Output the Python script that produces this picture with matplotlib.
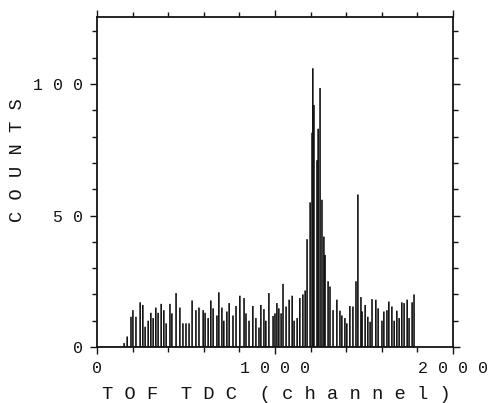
import numpy as np
import matplotlib
matplotlib.use("Agg")
import matplotlib.pyplot as plt
from matplotlib.ticker import MultipleLocator, FixedLocator, FixedFormatter

# TOF TDC spectrum: peak channel and counts of each spike
channel = [152, 169, 191, 202, 219, 242, 258, 270, 287, 303, 315, 331, 343, 360,
           376, 388, 410, 421, 444, 466, 483, 500, 517, 534, 556, 573, 596, 607,
           624, 640, 652, 674, 685, 702, 713, 730, 742, 764, 781, 803, 826, 837,
           854, 876, 893, 910, 921, 938, 949, 966, 989, 1000, 1011, 1022, 1034,
           1045, 1062, 1079, 1096, 1107, 1124, 1140, 1157, 1169, 1180, 1197, 1208,
           1213, 1219, 1236, 1242, 1253, 1264, 1275, 1281, 1298, 1309, 1326, 1348,
           1365, 1376, 1393, 1404, 1421, 1438, 1455, 1466, 1483, 1489, 1506, 1522,
           1534, 1545, 1567, 1579, 1601, 1612, 1629, 1640, 1657, 1669, 1685, 1697,
           1713, 1725, 1742, 1753, 1770, 1781]
counts = [1.5, 4, 11.5, 14, 11.5, 17, 16, 7.7, 10, 13, 11, 15, 13, 16.4,
          14, 9, 16.4, 12.8, 20.5, 15, 9, 9, 9, 17.7, 14, 15, 14, 13,
          11, 17.7, 14.7, 12, 20.8, 15, 10, 13.5, 16.7, 12, 15.6, 19.5, 18.6, 12.8,
          10, 15.6, 11, 7.4, 16, 14.4, 10, 20.5, 11.8, 12.8, 16.7, 14.7, 12.8,
          24, 15.4, 18, 19.5, 10, 11, 18.6, 20, 21.5, 41, 55, 81.5,
          106, 92, 71, 83, 98.5, 56, 42, 35, 25, 23, 14, 18,
          13.8, 12, 11, 9, 15.6, 15.4, 25, 58, 19, 13.5, 16, 11.5,
          9.6, 18.2, 18, 14.7, 10, 13.5, 14, 17.3, 15.4, 10, 13.8, 11,
          17, 16.7, 18, 11, 17, 20]

xtick_pos = [0, 1000, 2000]
xtick_text = ["0", "1 0 0 0", "2 0 0 0"]
ytick_pos = [0, 50, 100]
ytick_text = ["0", "5 0", "1 0 0"]

mono = "Liberation Mono"
ink = "#141414"

fig = plt.figure(figsize=(4.97, 4.03), dpi=100)
ax = fig.add_axes([97 / 497, 56 / 403, 356 / 497, 330 / 403])

# each spike drawn as a narrow up/down stroke from the baseline
ch = np.array(channel, dtype=float)
h = np.array(counts, dtype=float)
hw = 1.0
xs = np.column_stack([ch - hw, ch, ch + hw]).ravel()
ys = np.column_stack([np.zeros_like(h), h, np.zeros_like(h)]).ravel()
xs = np.concatenate([[0], xs, [1790]])
ys = np.concatenate([[0], ys, [0]])
ax.plot(xs, ys, color=ink, lw=0.6, solid_joinstyle="miter")

ax.set_xlim(0, 2000)
ax.set_ylim(0, 125.5)

ax.xaxis.set_major_locator(FixedLocator(xtick_pos))
ax.xaxis.set_major_formatter(FixedFormatter(xtick_text))
ax.xaxis.set_minor_locator(MultipleLocator(200))
ax.yaxis.set_major_locator(FixedLocator(ytick_pos))
ax.yaxis.set_major_formatter(FixedFormatter(ytick_text))
ax.yaxis.set_minor_locator(MultipleLocator(10))

ax.tick_params(which="both", direction="out", top=True, right=True,
               color=ink, width=1.0, labelcolor=ink)
ax.tick_params(which="major", length=5)
ax.tick_params(which="minor", length=3.5)
ax.tick_params(axis="x", pad=5)
ax.tick_params(axis="y", pad=5)
for lab in ax.get_xticklabels() + ax.get_yticklabels():
    lab.set_fontfamily(mono)
    lab.set_fontsize(12)

for sp in ax.spines.values():
    sp.set_color(ink)
    sp.set_linewidth(1.3)

ax.set_xlabel("T O F  T D C  ( c h a n n e l )", fontfamily=mono,
              fontsize=13.5, color=ink)
ax.xaxis.set_label_coords(0.503, -0.145)
ax.xaxis.label.set_va("center")
ax.set_ylabel("C O U N T S", fontfamily=mono, fontsize=13.5, color=ink)
ax.yaxis.set_label_coords(-0.222, 0.567)
ax.yaxis.label.set_va("center")

fig.savefig("out.png", dpi=100)
